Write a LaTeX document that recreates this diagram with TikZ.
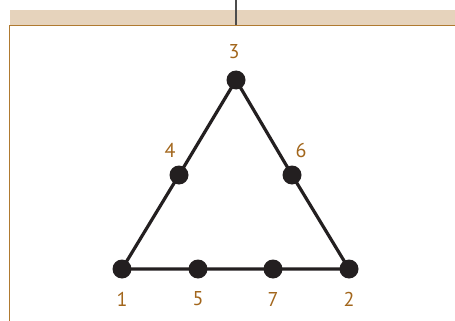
\documentclass[tikz,border=0pt]{standalone}
\usepackage{fontspec}
\setmainfont{PT Sans}
\definecolor{bandfill}{HTML}{E6D3BC}
\definecolor{bandline}{HTML}{B07A30}
\definecolor{labelcol}{HTML}{A2661C}
\definecolor{dotcol}{HTML}{231F20}
\begin{document}
\begin{tikzpicture}[x=1pt,y=-1pt,
  dot/.style={circle,fill=dotcol,inner sep=0pt,minimum size=19pt},
  lbl/.style={text=labelcol,font=\fontsize{20}{20}\selectfont,inner sep=0pt},
  edge/.style={draw=dotcol,line width=3.2pt}]
\useasboundingbox (0,0) rectangle (455,321);
\fill[bandfill] (10,10) rectangle (455,25);
\draw[bandline,line width=1.4pt] (9.5,25.5) -- (455,25.5);
\draw[bandline,line width=1.3pt] (9.5,25.5) -- (9.5,321);
\draw[black!70,line width=1.2pt] (236,0) -- (236,25);
\node[dot] (n1) at (122,269) {};
\node[dot] (n5) at (198,269) {};
\node[dot] (n7) at (273,269) {};
\node[dot] (n2) at (349,269) {};
\node[dot] (n3) at (236,80) {};
\node[dot] (n4) at (179,175) {};
\node[dot] (n6) at (292,175) {};
\draw[edge] (n1.center) -- (n5.center) -- (n7.center) -- (n2.center) -- (n6.center) -- (n3.center) -- (n4.center) -- (n1.center);
\node[lbl] (l3) at (234,52) {3};
\node[lbl] (l4) at (170,150) {4};
\node[lbl] (l6) at (301,150) {6};
\node[lbl] (l1) at (122,299) {1};
\node[lbl] (l5) at (198,299) {5};
\node[lbl] (l7) at (273,299) {7};
\node[lbl] (l2) at (349,299) {2};
\end{tikzpicture}
\end{document}
